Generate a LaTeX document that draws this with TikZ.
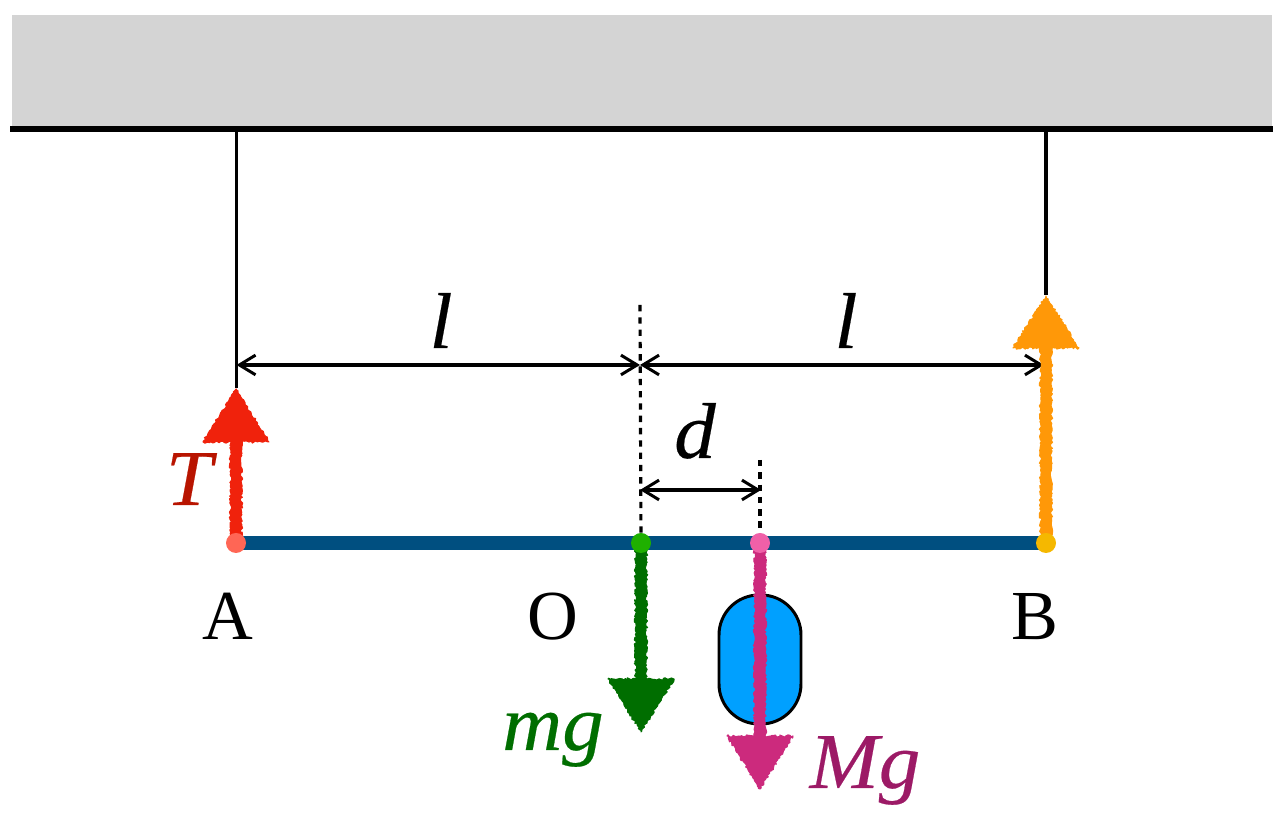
\documentclass[tikz,border=0pt]{standalone}
\usepackage{fontspec}
\setmainfont{Liberation Serif}
\newfontfamily\symfont[FakeStretch=1.05,FakeBold=0.3]{Liberation Serif}
\usetikzlibrary{calc}
\usetikzlibrary{arrows.meta}
\usetikzlibrary{decorations.pathmorphing}
\definecolor{barblue}{HTML}{004F80}
\definecolor{massblue}{HTML}{00A0FF}
\definecolor{ceilgray}{HTML}{D4D4D4}
\definecolor{redforce}{HTML}{F0220C}
\definecolor{redlabel}{HTML}{B81400}
\definecolor{reddot}{HTML}{FF6655}
\definecolor{orangeforce}{HTML}{FF9808}
\definecolor{orangedot}{HTML}{F5B800}
\definecolor{greenforce}{HTML}{006E00}
\definecolor{greendot}{HTML}{1FB000}
\definecolor{pinkforce}{HTML}{CC2A7D}
\definecolor{pinklabel}{HTML}{9C1A66}
\definecolor{pinkdot}{HTML}{F060A8}
\tikzset{
    lab/.style={inner sep=0pt,anchor=base,font=\fontsize{20}{20}\selectfont},
    sym/.style={inner sep=0pt,anchor=base,font=\fontsize{22.5}{22.5}\selectfont\symfont\itshape},
    dim/.style={line width=0.9pt,{Straight Barb[length=4.6pt,width=5.6pt,line width=0.85pt]}-{Straight Barb[length=4.6pt,width=5.6pt,line width=0.85pt]}},
    cord/.style={line width=0.9pt},
    guide/.style={line width=0.9pt,dash pattern=on 1.8pt off 1.7pt},
    rough/.style={line width=0.3pt,line join=round,decorate,decoration={random steps,segment length=0.5pt,amplitude=0.35pt}},
}
\begin{document}
\begin{tikzpicture}
    \useasboundingbox (0,0) rectangle (12.84,8.18);
    \coordinate (A) at (2.36,2.75);
    \coordinate (B) at (10.46,2.75);
    \coordinate (O) at (6.41,2.75);
    \coordinate (P) at (7.60,2.75);
    \coordinate (Ahang) at (2.365,6.89);
    \coordinate (Bhang) at (10.46,6.89);
    \coordinate (Acord) at (2.365,4.30);
    \coordinate (Atip) at (2.36,4.30);
    \coordinate (Btip) at (10.46,5.23);
    \coordinate (Otip) at (6.41,0.85);
    \coordinate (Ptip) at (7.60,0.28);
    \coordinate (Ohigh) at (6.40,5.13);
    \coordinate (Phigh) at (7.60,3.58);
    \coordinate (Adim) at (2.365,4.53);
    \coordinate (Odim) at (6.40,4.53);
    \coordinate (Bdim) at (10.44,4.53);
    \coordinate (Oddim) at (6.40,3.28);
    \coordinate (Pddim) at (7.61,3.28);
    % ceiling
    \fill[ceilgray] (0.12,6.89) rectangle (12.72,8.03);
    \draw[line width=1.55pt] (0.10,6.89) -- (12.73,6.89);
    % cords
    \draw[cord] (Ahang) -- (Acord);
    \draw[cord] (Bhang) -- (Btip);
    % dimensions
    \draw[guide] (Ohigh) -- (O);
    \draw[guide] (Phigh) -- (P);
    \draw[dim] (Adim) -- (Odim);
    \draw[dim] (Odim) -- (Bdim);
    \draw[dim] (Oddim) -- (Pddim);
    % load
    \draw[fill=massblue,line width=0.85pt,rounded corners=0.40cm] (7.19,0.94) rectangle (8.01,2.23);
    % bar
    \draw[barblue,line width=4.2pt] (A) -- (B);
    % forces
    \filldraw[rough,redforce] ($(A)+(-0.055,0)$) rectangle ($(Atip)+(0.055,-0.45)$);
    \filldraw[rough,redforce] ($(Atip)+(-0.33,-0.54)$) -- ($(Atip)+(0,-0.01)$) -- ($(Atip)+(0.33,-0.54)$) -- cycle;
    \filldraw[rough,orangeforce] ($(B)+(-0.055,0)$) rectangle ($(Btip)+(0.055,-0.45)$);
    \filldraw[rough,orangeforce] ($(Btip)+(-0.33,-0.53)$) -- ($(Btip)+(0,-0.01)$) -- ($(Btip)+(0.33,-0.53)$) -- cycle;
    \filldraw[rough,greenforce] ($(O)+(-0.055,0)$) rectangle ($(Otip)+(0.055,0.45)$);
    \filldraw[rough,greenforce] ($(Otip)+(-0.33,0.54)$) -- ($(Otip)+(0,0.01)$) -- ($(Otip)+(0.33,0.54)$) -- cycle;
    \filldraw[rough,pinkforce] ($(P)+(-0.055,0)$) rectangle ($(Ptip)+(0.055,0.45)$);
    \filldraw[rough,pinkforce] ($(Ptip)+(-0.33,0.54)$) -- ($(Ptip)+(0,0.01)$) -- ($(Ptip)+(0.33,0.54)$) -- cycle;
    % points
    \fill[reddot] (A) circle (0.10);
    \fill[orangedot] (B) circle (0.10);
    \fill[greendot] (O) circle (0.10);
    \fill[pinkdot] (P) circle (0.10);
    % labels
    \node[lab] (labA) at (2.28,1.78) {A};
    \node[lab] (labO) at (5.53,1.78) {O};
    \node[lab] (labB) at (10.35,1.78) {B};
    \node[sym] (labl) at (4.41,4.70) {l};
    \node[sym] (labr) at (8.46,4.70) {l};
    \node[sym] (labd) at (6.95,3.60) {d};
    \node[sym,text=redlabel] (labT) at (1.89,3.13) {T};
    \node[sym,text=greenforce] (labm) at (5.53,0.68) {mg};
    \node[sym,text=pinklabel] (labM) at (8.65,0.30) {Mg};
\end{tikzpicture}
\end{document}
